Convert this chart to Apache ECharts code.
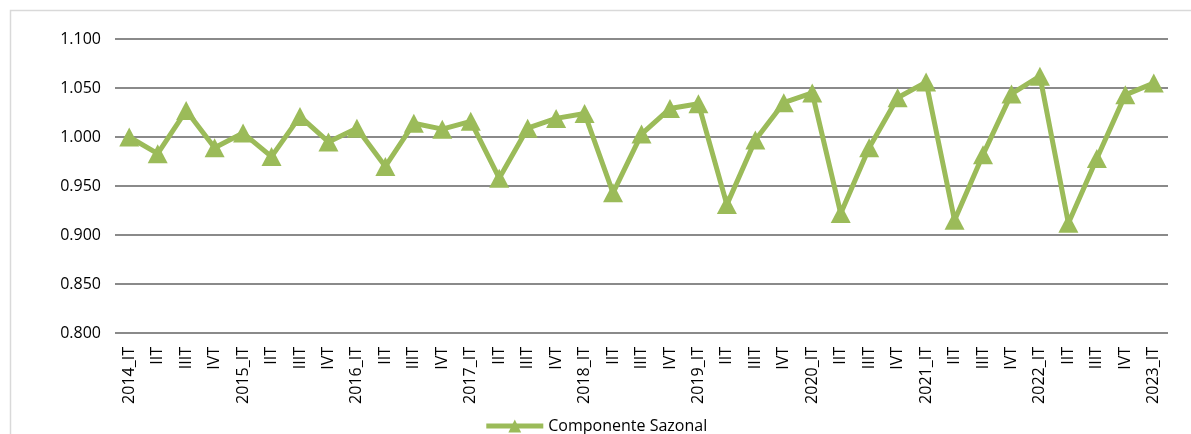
<!DOCTYPE html>
<html>
<head>
<meta charset="utf-8">
<script src="https://cdn.jsdelivr.net/npm/echarts@6/dist/echarts.min.js"></script>
<style>
  html, body { margin: 0; padding: 0; background: #fff; }
  #chart { width: 1191px; height: 434px; }
</style>
</head>
<body>
<div id="chart"></div>
<script>
// trimestres
const categories = [
  '2014_IT', 'IIT', 'IIIT', 'IVT',
  '2015_IT', 'IIT', 'IIIT', 'IVT',
  '2016_IT', 'IIT', 'IIIT', 'IVT',
  '2017_IT', 'IIT', 'IIIT', 'IVT',
  '2018_IT', 'IIT', 'IIIT', 'IVT',
  '2019_IT', 'IIT', 'IIIT', 'IVT',
  '2020_IT', 'IIT', 'IIIT', 'IVT',
  '2021_IT', 'IIT', 'IIIT', 'IVT',
  '2022_IT', 'IIT', 'IIIT', 'IVT',
  '2023_IT'
]

// componente sazonal
const sazonal = [
  1.000, 0.983, 1.027, 0.989,
  1.004, 0.980, 1.021, 0.995,
  1.009, 0.970, 1.014, 1.008,
  1.016, 0.958, 1.009, 1.019,
  1.024, 0.943, 1.003, 1.029,
  1.034, 0.931, 0.997, 1.035,
  1.045, 0.922, 0.989, 1.040,
  1.056, 0.915, 0.982, 1.044,
  1.062, 0.912, 0.978, 1.043,
  1.055
]

const yTicks = { min: 0.8, max: 1.1, interval: 0.05 }

const chart = echarts.init(document.getElementById('chart'))

const option = {
  backgroundColor: '#fff',
  textStyle: { fontFamily: 'Open Sans' },
  animation: false,
  graphic: [
    {
      type: 'rect',
      shape: { x: 10.5, y: 10.5, width: 1200, height: 450 },
      style: { fill: 'none', stroke: '#d9d9d9', lineWidth: 1.5 }
    }
  ],
  grid: {
    left: 115,
    right: 23,
    top: 39,
    bottom: 101
  },
  legend: {
    top: 413,
    left: 'center',
    itemWidth: 57,
    itemHeight: 16,
    itemGap: 10,
    lineStyle: { width: 5 },
    textStyle: { fontSize: 16, color: '#000', fontFamily: 'Open Sans' },
    data: ['Componente Sazonal']
  },
  xAxis: {
    type: 'category',
    data: categories,
    boundaryGap: true,
    axisLine: { show: false },
    axisTick: { show: false },
    axisLabel: {
      interval: 0,
      rotate: 90,
      margin: 14,
      fontSize: 16,
      color: '#000',
      fontFamily: 'Open Sans'
    }
  },
  yAxis: {
    type: 'value',
    min: yTicks.min,
    max: yTicks.max,
    interval: yTicks.interval,
    axisLine: { show: false },
    axisTick: { show: false },
    axisLabel: {
      margin: 14,
      fontSize: 16,
      color: '#000',
      fontFamily: 'Open Sans',
      formatter: v => v.toFixed(3)
    },
    splitLine: { lineStyle: { color: '#8a8a8a', width: 2 } }
  },
  series: [
    {
      name: 'Componente Sazonal',
      type: 'line',
      data: sazonal,
      symbol: 'triangle',
      symbolSize: [20, 19],
      color: '#9bbb59',
      lineStyle: { color: '#9bbb59', width: 5 },
      itemStyle: { color: '#9bbb59' }
    }
  ]
}

chart.setOption(option)
</script>
</body>
</html>
